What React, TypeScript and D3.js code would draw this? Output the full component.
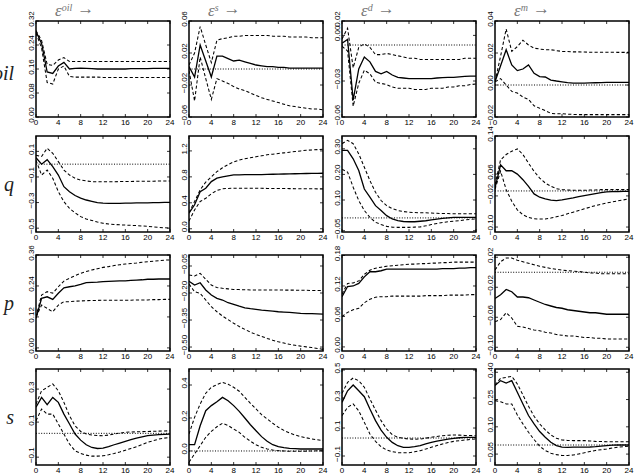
import * as d3 from "d3";

// horizons 0..24, ticks every 4 periods
const X_TICKS = [0, 4, 8, 12, 16, 20, 24];
const SHOCK_LABELS = ["oil", "s", "d", "m"];
const VAR_LABELS = ["oil", "q", "p", "s"];

// ---- row 1: oil ----
const OIL_OIL_MID = [0.285, 0.245, 0.15, 0.145, 0.17, 0.182, 0.16, 0.162, 0.163, 0.162, 0.161, 0.16, 0.16, 0.16, 0.16, 0.16, 0.16, 0.161, 0.161, 0.161, 0.161, 0.162, 0.162, 0.162, 0.162];
const OIL_OIL_UP = [0.288, 0.255, 0.175, 0.172, 0.19, 0.198, 0.185, 0.185, 0.185, 0.185, 0.185, 0.185, 0.185, 0.185, 0.185, 0.185, 0.185, 0.185, 0.185, 0.185, 0.185, 0.185, 0.185, 0.185, 0.185];
const OIL_OIL_LO = [0.28, 0.23, 0.115, 0.11, 0.16, 0.17, 0.135, 0.133, 0.133, 0.133, 0.133, 0.133, 0.132, 0.132, 0.132, 0.132, 0.132, 0.132, 0.132, 0.132, 0.132, 0.132, 0.132, 0.132, 0.132];

const OIL_S_MID = [0.003, -0.01, 0.03, 0.01, -0.01, 0.016, 0.016, 0.013, 0.01, 0.011, 0.009, 0.007, 0.005, 0.004, 0.003, 0.003, 0.002, 0.002, 0.001, 0.001, 0.001, 0.001, 0.001, 0.001, 0.001];
const OIL_S_UP = [0.005, 0.02, 0.053, 0.03, 0.008, 0.036, 0.038, 0.039, 0.041, 0.041, 0.042, 0.042, 0.042, 0.042, 0.042, 0.041, 0.041, 0.041, 0.04, 0.04, 0.04, 0.04, 0.039, 0.039, 0.039];
const OIL_S_LO = [-0.002, -0.04, 0.015, -0.012, -0.038, -0.012, -0.015, -0.018, -0.022, -0.025, -0.027, -0.03, -0.033, -0.036, -0.038, -0.04, -0.042, -0.044, -0.046, -0.047, -0.048, -0.049, -0.05, -0.05, -0.051];

const OIL_D_MID = [0.0014, 0.0047, -0.046, -0.02, -0.01, -0.014, -0.022, -0.024, -0.022, -0.025, -0.027, -0.0275, -0.028, -0.028, -0.028, -0.028, -0.028, -0.0275, -0.0272, -0.027, -0.027, -0.0265, -0.0262, -0.026, -0.026];
const OIL_D_UP = [0.005, 0.014, -0.019, -0.002, 0.001, -0.002, -0.008, -0.008, -0.007, -0.008, -0.009, -0.01, -0.011, -0.011, -0.012, -0.012, -0.012, -0.012, -0.012, -0.012, -0.012, -0.012, -0.011, -0.011, -0.011];
const OIL_D_LO = [-0.001, -0.005, -0.051, -0.032, -0.021, -0.024, -0.031, -0.032, -0.033, -0.035, -0.036, -0.036, -0.036, -0.037, -0.037, -0.037, -0.036, -0.036, -0.036, -0.035, -0.035, -0.034, -0.034, -0.033, -0.0325];

const OIL_M_MID = [0.002, 0.012, 0.022, 0.0125, 0.009, 0.01, 0.0125, 0.0073, 0.0052, 0.005, 0.0031, 0.0025, 0.002, 0.0015, 0.0012, 0.0012, 0.0012, 0.0013, 0.0014, 0.0015, 0.0016, 0.0017, 0.0017, 0.0017, 0.0017];
const OIL_M_UP = [0.002, 0.018, 0.035, 0.021, 0.024, 0.028, 0.025, 0.023, 0.0225, 0.022, 0.022, 0.0215, 0.021, 0.021, 0.0207, 0.0207, 0.0206, 0.0205, 0.0205, 0.0205, 0.0205, 0.0205, 0.0204, 0.0204, 0.0204];
const OIL_M_LO = [0.002, 0.004, 0.0, -0.004, -0.005, -0.0075, -0.009, -0.013, -0.0145, -0.016, -0.0177, -0.018, -0.018, -0.0182, -0.0184, -0.0185, -0.0185, -0.0185, -0.0185, -0.0185, -0.0185, -0.0185, -0.0185, -0.0185, -0.0185];

// ---- row 2: q ----
const Q_OIL_MID = [0.05, 0.0, 0.035, -0.02, -0.085, -0.176, -0.215, -0.245, -0.265, -0.28, -0.29, -0.3, -0.305, -0.307, -0.307, -0.306, -0.305, -0.304, -0.303, -0.302, -0.302, -0.301, -0.3, -0.299, -0.298];
const Q_OIL_UP = [0.07, 0.06, 0.124, 0.085, 0.02, -0.046, -0.085, -0.11, -0.124, -0.131, -0.137, -0.138, -0.138, -0.137, -0.137, -0.136, -0.135, -0.135, -0.134, -0.134, -0.133, -0.133, -0.132, -0.132, -0.131];
const Q_OIL_LO = [0.03, -0.085, -0.046, -0.11, -0.215, -0.293, -0.345, -0.38, -0.41, -0.428, -0.44, -0.452, -0.462, -0.467, -0.471, -0.474, -0.476, -0.478, -0.48, -0.483, -0.486, -0.49, -0.494, -0.497, -0.5];

const Q_S_MID = [0.24, 0.37, 0.57, 0.625, 0.727, 0.78, 0.8, 0.815, 0.83, 0.832, 0.834, 0.834, 0.835, 0.836, 0.838, 0.84, 0.842, 0.844, 0.846, 0.848, 0.85, 0.852, 0.853, 0.855, 0.856];
const Q_S_UP = [0.25, 0.42, 0.6, 0.72, 0.8, 0.88, 0.94, 0.99, 1.03, 1.06, 1.08, 1.095, 1.11, 1.125, 1.14, 1.15, 1.16, 1.17, 1.18, 1.19, 1.2, 1.21, 1.215, 1.22, 1.225];
const Q_S_LO = [0.12, 0.29, 0.42, 0.47, 0.54, 0.59, 0.615, 0.622, 0.625, 0.625, 0.625, 0.625, 0.625, 0.623, 0.622, 0.621, 0.62, 0.62, 0.619, 0.618, 0.618, 0.617, 0.616, 0.615, 0.615];

const Q_D_MID = [0.264, 0.264, 0.231, 0.185, 0.113, 0.081, 0.048, 0.029, 0.009, -0.004, -0.011, -0.014, -0.015, -0.015, -0.013, -0.011, -0.008, -0.005, -0.002, 0.0, 0.002, 0.002, 0.002, 0.002, 0.002];
const Q_D_UP = [0.29, 0.303, 0.29, 0.25, 0.198, 0.146, 0.1, 0.068, 0.048, 0.036, 0.029, 0.025, 0.022, 0.021, 0.02, 0.02, 0.019, 0.018, 0.017, 0.017, 0.016, 0.016, 0.016, 0.016, 0.016];
const Q_D_LO = [0.19, 0.179, 0.12, 0.068, 0.029, 0.002, -0.017, -0.026, -0.033, -0.036, -0.037, -0.037, -0.037, -0.036, -0.035, -0.031, -0.026, -0.022, -0.018, -0.015, -0.013, -0.011, -0.008, -0.006, -0.004];

const Q_M_MID = [0.009, 0.079, 0.061, 0.061, 0.051, 0.034, 0.014, -0.009, -0.019, -0.024, -0.028, -0.029, -0.027, -0.024, -0.021, -0.017, -0.014, -0.011, -0.008, -0.005, -0.003, -0.002, -0.002, -0.001, -0.001];
const Q_M_UP = [0.019, 0.094, 0.11, 0.12, 0.127, 0.11, 0.084, 0.059, 0.039, 0.024, 0.014, 0.007, 0.004, 0.003, 0.002, 0.002, 0.002, 0.003, 0.003, 0.004, 0.004, 0.004, 0.004, 0.004, 0.004];
const Q_M_LO = [0.005, 0.06, 0.004, -0.031, -0.057, -0.072, -0.08, -0.084, -0.085, -0.085, -0.082, -0.078, -0.074, -0.069, -0.064, -0.059, -0.054, -0.049, -0.044, -0.04, -0.036, -0.033, -0.03, -0.027, -0.024];

// ---- row 3: p ----
const P_OIL_MID = [0.115, 0.192, 0.198, 0.188, 0.212, 0.233, 0.237, 0.24, 0.246, 0.253, 0.254, 0.255, 0.257, 0.258, 0.259, 0.26, 0.26, 0.262, 0.263, 0.264, 0.266, 0.266, 0.267, 0.267, 0.267];
const P_OIL_UP = [0.12, 0.205, 0.218, 0.212, 0.237, 0.259, 0.27, 0.28, 0.289, 0.296, 0.302, 0.307, 0.312, 0.315, 0.319, 0.322, 0.325, 0.327, 0.329, 0.332, 0.334, 0.336, 0.338, 0.34, 0.341];
const P_OIL_LO = [0.12, 0.166, 0.153, 0.14, 0.166, 0.179, 0.179, 0.181, 0.182, 0.183, 0.184, 0.184, 0.185, 0.185, 0.185, 0.185, 0.185, 0.185, 0.186, 0.186, 0.186, 0.187, 0.187, 0.188, 0.188];

const P_S_MID = [-0.135, -0.156, -0.143, -0.183, -0.211, -0.23, -0.239, -0.254, -0.263, -0.273, -0.282, -0.287, -0.291, -0.295, -0.298, -0.301, -0.304, -0.306, -0.308, -0.31, -0.313, -0.314, -0.315, -0.316, -0.317];
const P_S_UP = [-0.1, -0.106, -0.091, -0.124, -0.156, -0.17, -0.174, -0.177, -0.18, -0.181, -0.182, -0.183, -0.183, -0.183, -0.183, -0.183, -0.183, -0.184, -0.184, -0.184, -0.185, -0.185, -0.186, -0.186, -0.187];
const P_S_LO = [-0.15, -0.193, -0.202, -0.239, -0.276, -0.304, -0.328, -0.348, -0.368, -0.386, -0.402, -0.417, -0.43, -0.441, -0.452, -0.462, -0.471, -0.478, -0.485, -0.49, -0.495, -0.499, -0.503, -0.508, -0.513];

const P_D_MID = [0.099, 0.119, 0.12, 0.125, 0.138, 0.148, 0.148, 0.15, 0.153, 0.153, 0.153, 0.153, 0.153, 0.153, 0.153, 0.153, 0.153, 0.153, 0.154, 0.154, 0.154, 0.155, 0.155, 0.156, 0.156];
const P_D_UP = [0.104, 0.125, 0.126, 0.13, 0.143, 0.151, 0.155, 0.157, 0.159, 0.16, 0.161, 0.162, 0.163, 0.163, 0.164, 0.164, 0.165, 0.165, 0.166, 0.166, 0.167, 0.167, 0.167, 0.167, 0.167];
const P_D_LO = [0.06, 0.068, 0.073, 0.076, 0.087, 0.094, 0.098, 0.099, 0.099, 0.1, 0.1, 0.1, 0.1, 0.1, 0.1, 0.101, 0.101, 0.101, 0.101, 0.102, 0.102, 0.102, 0.102, 0.103, 0.103];

const P_M_MID = [-0.035, -0.03, -0.023, -0.026, -0.033, -0.033, -0.034, -0.037, -0.04, -0.043, -0.045, -0.047, -0.048, -0.05, -0.051, -0.052, -0.053, -0.054, -0.054, -0.055, -0.056, -0.056, -0.056, -0.056, -0.056];
const P_M_UP = [0.003, 0.014, 0.019, 0.019, 0.016, 0.014, 0.012, 0.01, 0.008, 0.0065, 0.005, 0.004, 0.003, 0.002, 0.0015, 0.001, 0.0, -0.001, -0.001, -0.002, -0.002, -0.002, -0.002, -0.002, -0.002];
const P_M_LO = [-0.066, -0.063, -0.054, -0.061, -0.072, -0.073, -0.075, -0.077, -0.078, -0.08, -0.081, -0.083, -0.084, -0.085, -0.085, -0.086, -0.087, -0.087, -0.088, -0.088, -0.089, -0.089, -0.089, -0.089, -0.089];

// ---- row 4: s ----
const S_OIL_MID = [0.153, 0.211, 0.168, 0.211, 0.182, 0.113, 0.055, -0.004, -0.04, -0.067, -0.083, -0.089, -0.087, -0.078, -0.067, -0.057, -0.047, -0.037, -0.028, -0.021, -0.014, -0.011, -0.008, -0.006, -0.004];
const S_OIL_UP = [0.172, 0.25, 0.27, 0.29, 0.25, 0.182, 0.103, 0.044, 0.011, -0.004, -0.01, -0.013, -0.014, -0.01, -0.004, 0.001, 0.006, 0.008, 0.009, 0.01, 0.011, 0.012, 0.013, 0.014, 0.015];
const S_OIL_LO = [0.074, 0.143, 0.113, 0.113, 0.055, -0.004, -0.063, -0.103, -0.118, -0.128, -0.134, -0.134, -0.132, -0.126, -0.118, -0.109, -0.099, -0.089, -0.079, -0.066, -0.053, -0.043, -0.034, -0.028, -0.024];

const S_S_MID = [0.038, 0.038, 0.153, 0.244, 0.275, 0.299, 0.325, 0.305, 0.275, 0.24, 0.2, 0.159, 0.123, 0.087, 0.059, 0.038, 0.026, 0.02, 0.016, 0.014, 0.012, 0.012, 0.012, 0.012, 0.012];
const S_S_UP = [0.103, 0.204, 0.285, 0.35, 0.386, 0.402, 0.416, 0.405, 0.386, 0.362, 0.325, 0.289, 0.255, 0.22, 0.194, 0.168, 0.144, 0.125, 0.109, 0.097, 0.087, 0.08, 0.073, 0.068, 0.063];
const S_S_LO = [-0.068, -0.018, 0.032, 0.083, 0.119, 0.147, 0.168, 0.155, 0.133, 0.113, 0.083, 0.059, 0.038, 0.022, 0.012, 0.006, 0.002, 0.0, -0.002, -0.002, -0.002, -0.001, 0.0, 0.001, 0.002];

const S_D_MID = [0.246, 0.326, 0.366, 0.326, 0.285, 0.2, 0.12, 0.055, 0.005, -0.03, -0.053, -0.064, -0.064, -0.06, -0.053, -0.041, -0.03, -0.022, -0.014, -0.008, -0.002, 0.002, 0.005, 0.005, 0.005];
const S_D_UP = [0.308, 0.384, 0.414, 0.395, 0.35, 0.269, 0.193, 0.12, 0.062, 0.023, 0.005, -0.002, -0.007, -0.008, -0.007, -0.001, 0.005, 0.011, 0.016, 0.019, 0.021, 0.02, 0.018, 0.017, 0.016];
const S_D_LO = [0.154, 0.212, 0.235, 0.188, 0.108, 0.028, -0.023, -0.06, -0.083, -0.094, -0.101, -0.102, -0.101, -0.095, -0.087, -0.076, -0.064, -0.052, -0.041, -0.031, -0.023, -0.018, -0.014, -0.01, -0.007];

const S_M_MID = [0.327, 0.354, 0.341, 0.354, 0.29, 0.226, 0.162, 0.116, 0.074, 0.043, 0.015, -0.003, -0.012, -0.013, -0.012, -0.012, -0.012, -0.011, -0.009, -0.006, -0.003, -0.001, 0.0, 0.0, 0.0];
const S_M_UP = [0.33, 0.367, 0.372, 0.378, 0.336, 0.275, 0.213, 0.158, 0.116, 0.083, 0.055, 0.037, 0.028, 0.025, 0.024, 0.024, 0.024, 0.022, 0.02, 0.019, 0.018, 0.018, 0.018, 0.018, 0.018];
const S_M_LO = [0.244, 0.238, 0.226, 0.226, 0.165, 0.116, 0.07, 0.03, -0.007, -0.03, -0.045, -0.053, -0.058, -0.058, -0.055, -0.049, -0.043, -0.036, -0.03, -0.026, -0.022, -0.017, -0.012, -0.009, -0.007];

// y ranges and tick labels, row by row
const Y_DOMAINS = [
  [0, 0.32], [-0.06, 0.06], [-0.06, 0.02], [-0.02, 0.04],
  [-0.53, 0.22], [-0.05, 1.43], [-0.055, 0.32], [-0.124, 0.166],
  [-0.012, 0.36], [-0.522, 0.011], [-0.008, 0.181], [-0.105, 0.023],
  [-0.186, 0.378], [-0.085, 0.497], [-0.186, 0.476], [-0.11, 0.418],
];
const Y_TICKS = [
  [0, 0.08, 0.16, 0.24, 0.32], [-0.06, -0.02, 0.02, 0.06], [-0.06, -0.03, 0.008, 0.02], [-0.02, 0, 0.02, 0.04],
  [-0.5, -0.3, -0.1, 0.1], [0, 0.4, 0.8, 1.2], [-0.05, 0.07, 0.17, 0.27], [-0.109, -0.015, 0.051, 0.166],
  [0, 0.12, 0.24, 0.36], [-0.5, -0.35, -0.2, -0.05], [0, 0.06, 0.12, 0.18], [-0.1, -0.06, -0.02, 0.02],
  [-0.14, 0.066, 0.26], [0, 0.2, 0.4], [-0.124, 0.069, 0.276, 0.469], [-0.05, 0.1, 0.25, 0.4],
];
const Y_TICK_LABELS = [
  ["0.00", "0.08", "0.16", "0.24", "0.32"], ["−0.06", "−0.02", "0.02", "0.06"], ["−0.06", "−0.03", "0.00", "0.02"], ["−0.02", "0.00", "0.02", "0.04"],
  ["−0.5", "−0.3", "−0.1", "0.1"], ["0.0", "0.4", "0.8", "1.2"], ["−0.05", "0.10", "0.20", "0.30"], ["−0.10", "−0.02", "0.06", "0.14"],
  ["0.00", "0.12", "0.24", "0.36"], ["−0.50", "−0.35", "−0.20", "−0.05"], ["0.00", "0.06", "0.12", "0.18"], ["−0.10", "−0.06", "−0.02", "0.02"],
  ["−0.1", "0.1", "0.3"], ["0.0", "0.2", "0.4"], ["−0.1", "0.1", "0.3", "0.5"], ["−0.05", "0.10", "0.25", "0.40"],
];

const SERIES = [
  [OIL_OIL_MID, OIL_OIL_UP, OIL_OIL_LO], [OIL_S_MID, OIL_S_UP, OIL_S_LO], [OIL_D_MID, OIL_D_UP, OIL_D_LO], [OIL_M_MID, OIL_M_UP, OIL_M_LO],
  [Q_OIL_MID, Q_OIL_UP, Q_OIL_LO], [Q_S_MID, Q_S_UP, Q_S_LO], [Q_D_MID, Q_D_UP, Q_D_LO], [Q_M_MID, Q_M_UP, Q_M_LO],
  [P_OIL_MID, P_OIL_UP, P_OIL_LO], [P_S_MID, P_S_UP, P_S_LO], [P_D_MID, P_D_UP, P_D_LO], [P_M_MID, P_M_UP, P_M_LO],
  [S_OIL_MID, S_OIL_UP, S_OIL_LO], [S_S_MID, S_S_UP, S_S_LO], [S_D_MID, S_D_UP, S_D_LO], [S_M_MID, S_M_UP, S_M_LO],
];

const WIDTH = 635;
const HEIGHT = 475;
const COL_X = [36, 189, 342, 495];
const ROW_Y = [21, 136, 255, 369];
const PW = 134;
const PH = 96;
const TICK_FONT = "'Liberation Sans', Arial, sans-serif";
const MATH_FONT = "'Liberation Serif', 'DejaVu Serif', serif";

const Panel = ({ idx }: { idx: number }) => {
  const r = Math.floor(idx / 4);
  const c = idx % 4;
  const [mid, up, lo] = SERIES[idx];
  const xScale = d3.scaleLinear().domain([0, 24]).range([0, PW]);
  const yScale = d3.scaleLinear().domain(Y_DOMAINS[idx]).range([PH, 0]);
  const line = d3
    .line<number>()
    .x((_, k) => xScale(k))
    .y((v) => yScale(v));
  const zeroY = yScale(0);
  const showZero = zeroY > 5 && zeroY < PH - 5;
  const clipId = `clip-${idx}`;

  return (
    <g transform={`translate(${COL_X[c]},${ROW_Y[r]})`}>
      <clipPath id={clipId}>
        <rect x={0} y={0} width={PW} height={PH} />
      </clipPath>
      <g clipPath={`url(#${clipId})`} fill="none" stroke="#000">
        {showZero && (
          <line x1={0} x2={PW} y1={zeroY} y2={zeroY} strokeWidth={1} strokeDasharray="1,1.6" />
        )}
        <path d={line(up) ?? ""} strokeWidth={1.05} strokeDasharray="3.2,2.2" />
        <path d={line(lo) ?? ""} strokeWidth={1.05} strokeDasharray="3.2,2.2" />
        <path d={line(mid) ?? ""} strokeWidth={1.3} />
      </g>
      {/* matlab style inward ticks */}
      <g stroke="#000" strokeWidth={0.8}>
        {X_TICKS.map((t) => (
          <g key={`xt${t}`}>
            <line x1={xScale(t)} x2={xScale(t)} y1={PH} y2={PH - 3} />
            <line x1={xScale(t)} x2={xScale(t)} y1={0} y2={3} />
          </g>
        ))}
        {Y_TICKS[idx].map((t) => (
          <g key={`yt${t}`}>
            <line x1={0} x2={3} y1={yScale(t)} y2={yScale(t)} />
            <line x1={PW} x2={PW - 3} y1={yScale(t)} y2={yScale(t)} />
          </g>
        ))}
      </g>
      <rect x={0} y={0} width={PW} height={PH} fill="none" stroke="#000" strokeWidth={1.5} />
      <g fontFamily={TICK_FONT} fontSize={8} fill="#000">
        {X_TICKS.map((t) => (
          <text key={`xl${t}`} x={xScale(t)} y={PH + 8} textAnchor="middle">
            {t}
          </text>
        ))}
        {Y_TICKS[idx].map((t, k) => (
          <text
            key={`yl${t}`}
            transform={`translate(-2,${yScale(t) - 2}) rotate(-90)`}
            textAnchor="middle"
          >
            {Y_TICK_LABELS[idx][k]}
          </text>
        ))}
      </g>
    </g>
  );
};

export default function App() {
  const rowCenters = ROW_Y.map((y) => y + PH / 2);
  return (
    <svg
      width={WIDTH}
      height={HEIGHT}
      style={{ position: "absolute", left: 0, top: 0, background: "#fff" }}
    >
      <rect width={WIDTH} height={HEIGHT} fill="#fff" />
      {SERIES.map((_, i) => (
        <Panel key={i} idx={i} />
      ))}
      {SHOCK_LABELS.map((s, c) => (
        <text key={s} x={COL_X[c] + 19} y={16} fontFamily={MATH_FONT} fontSize={17} fill="#777">
          <tspan fontStyle="italic">ε</tspan>
          <tspan fontStyle="italic" fontSize={10} dy={-5}>
            {s}
          </tspan>
          <tspan dy={3} dx={5}>
            →
          </tspan>
        </text>
      ))}
      {VAR_LABELS.map((v, r) => (
        <text
          key={v + r}
          x={14}
          y={rowCenters[r] + (r === 0 ? 11 : 7)}
          textAnchor="end"
          fontFamily={MATH_FONT}
          fontStyle="italic"
          fontSize={20}
          fill="#222"
        >
          {v}
        </text>
      ))}
    </svg>
  );
}
